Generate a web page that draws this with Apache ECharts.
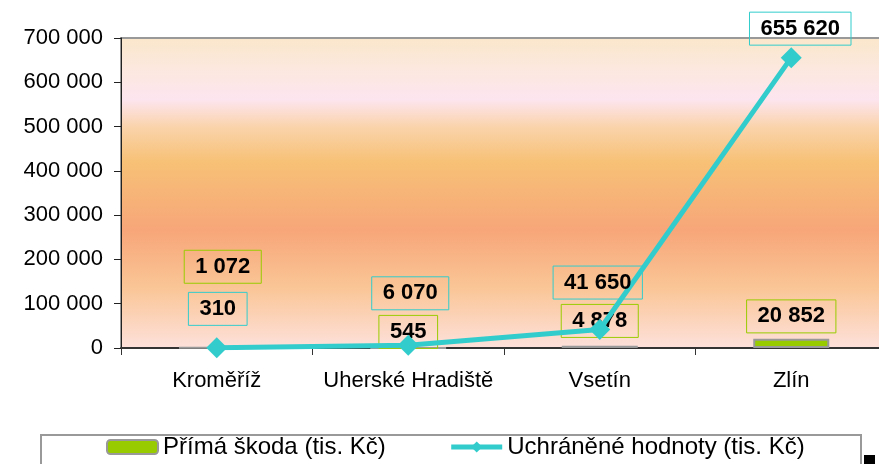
<!DOCTYPE html>
<html>
<head>
<meta charset="utf-8">
<script src="https://cdn.jsdelivr.net/npm/echarts@6/dist/echarts.min.js"></script>
<style>
html,body{margin:0;padding:0;background:#fff;overflow:hidden;}
#chart{width:890px;height:464px;}
</style>
</head>
<body>
<div id="chart"></div>
<script>
const categories = ['Kroměříž', 'Uherské Hradiště', 'Vsetín', 'Zlín'];
const damageValues = [1072, 545, 4878, 20852];
const savedValues = [310, 6070, 41650, 655620];
const yTicks = [0, 100000, 200000, 300000, 400000, 500000, 600000, 700000];
const seriesNames = ['Přímá škoda (tis. Kč)', 'Uchráněné hodnoty (tis. Kč)'];

// label placement offsets (styling, kept separate from data)
const damageLabelOffsets = [[6, -81], [0, -16], [0, -26], [0, -27]];
const savedLabelOffsets = [[1, -39], [2, -52], [-2, -47], [9, -29]];

const FONT = "'Liberation Sans', Arial, sans-serif";
const fmt = v => String(v).replace(/\B(?=(\d{3})+(?!\d))/g, ' ');

const labelBase = {
  show: true,
  position: 'inside',
  fontFamily: FONT,
  fontSize: 22,
  fontWeight: 'bold',
  color: '#000',
  borderWidth: 1,
  padding: [6, 11, 5, 11],
  formatter: p => fmt(p.value)
};

const chart = echarts.init(document.getElementById('chart'));
chart.setOption({
  animation: false,
  graphic: [
    {type: 'rect', z: -10, shape: {x: 864, y: 455, width: 11, height: 20}, style: {fill: '#000'}},
    {type: 'rect', z: -9, shape: {x: 41, y: 435, width: 820, height: 40}, style: {fill: '#fff', stroke: '#999', lineWidth: 2}}
  ],
  grid: {
    left: 121, top: 38, width: 766, height: 310,
    show: true,
    borderColor: '#999', borderWidth: 2,
    backgroundColor: {
      type: 'linear', x: 0, y: 0, x2: 0, y2: 1,
      colorStops: [
        {offset: 0, color: '#FAE7CA'},
        {offset: 0.1, color: '#FCE8DE'},
        {offset: 0.2, color: '#FDE5EF'},
        {offset: 0.29, color: '#FAD3AA'},
        {offset: 0.4, color: '#F7C176'},
        {offset: 0.62, color: '#F7A679'},
        {offset: 0.8, color: '#FAC595'},
        {offset: 1, color: '#FDE1DC'}
      ]
    }
  },
  legend: {
    left: 106, top: 435,
    padding: 0,
    itemGap: 63,
    itemWidth: 51, itemHeight: 14,
    lineStyle: {width: 5},
    textStyle: {fontFamily: FONT, fontSize: 24, color: '#000'},
    data: seriesNames
  },
  xAxis: {
    type: 'category',
    data: categories,
    boundaryGap: true,
    axisLine: {lineStyle: {color: '#333', width: 2}},
    axisTick: {show: true, length: 7, lineStyle: {color: '#333'}},
    axisLabel: {fontFamily: FONT, fontSize: 22, color: '#000', margin: 22, interval: 0}
  },
  yAxis: {
    type: 'value',
    min: yTicks[0], max: yTicks[yTicks.length - 1], interval: yTicks[1] - yTicks[0],
    axisLine: {show: true, lineStyle: {color: '#222', width: 1}},
    axisTick: {show: true, length: 7, lineStyle: {color: '#222'}},
    splitLine: {show: false},
    axisLabel: {fontFamily: FONT, fontSize: 22, color: '#000', margin: 18, formatter: fmt}
  },
  series: [
    {
      name: seriesNames[0],
      type: 'bar',
      barWidth: 76,
      itemStyle: {color: '#99CC00', borderColor: '#999', borderWidth: 2},
      label: Object.assign({}, labelBase, {borderColor: '#99CC00'}),
      data: damageValues.map((v, i) => ({value: v, label: {offset: damageLabelOffsets[i]}})),
      z: 2
    },
    {
      name: seriesNames[1],
      type: 'line',
      symbol: 'diamond',
      symbolSize: 21,
      lineStyle: {color: '#33CCCC', width: 5},
      itemStyle: {color: '#33CCCC'},
      label: Object.assign({}, labelBase, {borderColor: '#33CCCC'}),
      data: savedValues.map((v, i) => ({value: v, label: {offset: savedLabelOffsets[i]}})),
      z: 3
    }
  ]
});
</script>
</body>
</html>
